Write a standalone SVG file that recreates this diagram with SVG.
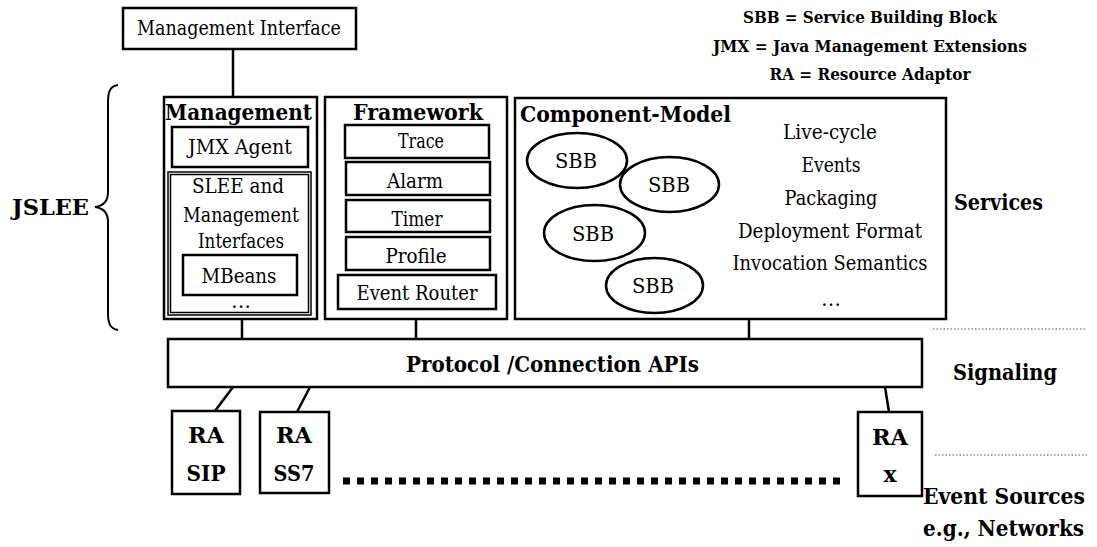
<svg xmlns="http://www.w3.org/2000/svg" width="1097" height="547" viewBox="0 0 1097 547" font-family="'DejaVu Serif', 'Liberation Serif', serif">
<style>
.box{fill:#fff;stroke:#000;stroke-width:2.5}
.thin{fill:none;stroke:#000;stroke-width:1.5}
.ell{fill:#fff;stroke:#000;stroke-width:2.5}
.t{font-size:20px;fill:#000;text-anchor:middle}
.b{font-weight:bold;font-size:22px;fill:#000}
.m{text-anchor:middle}
.lg{font-weight:bold;font-size:16px;fill:#000;text-anchor:middle}
.c{stroke:#000;stroke-width:2.5;fill:none}
.dot{stroke:#555;stroke-width:1.2;stroke-dasharray:1.5 2;fill:none}
</style>
<rect width="1097" height="547" fill="#fff"/>

<g id="connectors">
<line class="c" x1="233" y1="49" x2="233" y2="97"/>
<line class="c" x1="242" y1="319" x2="242" y2="339"/>
<line class="c" x1="416" y1="319" x2="416" y2="339"/>
<line class="c" x1="749" y1="319" x2="749" y2="339"/>
<line class="c" x1="233" y1="387" x2="215" y2="411"/>
<line class="c" x1="310" y1="387" x2="297" y2="412"/>
<line class="c" x1="885" y1="387" x2="889" y2="412"/>
<line x1="343" y1="481" x2="845" y2="481" stroke="#000" stroke-width="7" stroke-dasharray="7 7"/>
</g>

<g id="legend">
<text class="lg" x="870" y="23" textLength="254" lengthAdjust="spacingAndGlyphs">SBB = Service  Building Block</text>
<text class="lg" x="870" y="52" textLength="314" lengthAdjust="spacingAndGlyphs">JMX = Java Management Extensions</text>
<text class="lg" x="870" y="80" textLength="201" lengthAdjust="spacingAndGlyphs">RA = Resource Adaptor</text>
</g>

<g id="management-interface">
<rect class="box" x="123" y="8" width="233" height="41"/>
<text class="t" x="239" y="35" textLength="204" lengthAdjust="spacingAndGlyphs">Management  Interface</text>
</g>

<g id="jslee">
<text class="b" x="12" y="215" textLength="77" lengthAdjust="spacingAndGlyphs">JSLEE</text>
<path d="M118,85 C110,86 108,92 108,102 L108,192 C108,201 103,206 95,207 C103,208 108,213 108,222 L108,313 C108,323 110,329 118,330" fill="none" stroke="#000" stroke-width="2"/>
</g>

<g id="management">
<rect class="box" x="164" y="97" width="153" height="222"/>
<text class="b" x="165" y="120" textLength="147" lengthAdjust="spacingAndGlyphs">Management</text>
<rect class="box" x="172" y="127" width="136" height="40"/>
<text class="t" x="240" y="154" textLength="104" lengthAdjust="spacingAndGlyphs">JMX Agent</text>
<rect class="thin" x="168" y="172" width="143" height="143"/>
<rect class="thin" x="170.5" y="174.5" width="138" height="138"/>
<text class="t" x="238" y="193" textLength="92" lengthAdjust="spacingAndGlyphs">SLEE and</text>
<text class="t" x="241" y="222" textLength="116" lengthAdjust="spacingAndGlyphs">Management</text>
<text class="t" x="241" y="248" textLength="86" lengthAdjust="spacingAndGlyphs">Interfaces</text>
<rect class="box" x="183" y="255" width="114" height="40"/>
<text class="t" x="239" y="283" textLength="75" lengthAdjust="spacingAndGlyphs">MBeans</text>
<text class="t" x="241" y="308" font-size="14">…</text>
</g>

<g id="framework">
<rect class="box" x="325" y="97" width="182" height="222"/>
<text class="b" x="353" y="120" textLength="130" lengthAdjust="spacingAndGlyphs">Framework</text>
<rect class="box" x="345" y="125" width="144" height="33"/>
<text class="t" x="421" y="148" textLength="46" lengthAdjust="spacingAndGlyphs">Trace</text>
<rect class="box" x="346" y="162" width="144" height="33"/>
<text class="t" x="415" y="188" textLength="56" lengthAdjust="spacingAndGlyphs">Alarm</text>
<rect class="box" x="346" y="200" width="144" height="32"/>
<text class="t" x="417" y="226" textLength="51" lengthAdjust="spacingAndGlyphs">Timer</text>
<rect class="box" x="346" y="237" width="144" height="33"/>
<text class="t" x="416" y="263" textLength="61" lengthAdjust="spacingAndGlyphs">Profile</text>
<rect class="box" x="338" y="275" width="158" height="34"/>
<text class="t" x="417" y="300" textLength="121" lengthAdjust="spacingAndGlyphs">Event Router</text>
</g>

<g id="component-model">
<rect class="box" x="515" y="98" width="431" height="221"/>
<text class="b" x="520" y="122" textLength="211" lengthAdjust="spacingAndGlyphs">Component-Model</text>
<text class="t" x="830" y="139" textLength="94" lengthAdjust="spacingAndGlyphs">Live-cycle</text>
<text class="t" x="831" y="172" textLength="59" lengthAdjust="spacingAndGlyphs">Events</text>
<text class="t" x="831" y="205" textLength="93" lengthAdjust="spacingAndGlyphs">Packaging</text>
<text class="t" x="830" y="238" textLength="184" lengthAdjust="spacingAndGlyphs">Deployment  Format</text>
<text class="t" x="830" y="270" textLength="195" lengthAdjust="spacingAndGlyphs">Invocation  Semantics</text>
<text class="t" x="831" y="306" font-size="14">…</text>
</g>

<g id="sbb1"><ellipse class="ell" cx="577" cy="160.5" rx="50" ry="27.5"/><text class="t" x="576" y="168" textLength="42" lengthAdjust="spacingAndGlyphs">SBB</text></g>
<g id="sbb2"><ellipse class="ell" cx="669.5" cy="184.5" rx="49.5" ry="27.5"/><text class="t" x="669" y="192" textLength="42" lengthAdjust="spacingAndGlyphs">SBB</text></g>
<g id="sbb3"><ellipse class="ell" cx="594.5" cy="233" rx="50.5" ry="28"/><text class="t" x="593" y="241" textLength="42" lengthAdjust="spacingAndGlyphs">SBB</text></g>
<g id="sbb4"><ellipse class="ell" cx="654.5" cy="285.5" rx="48.5" ry="27.5"/><text class="t" x="653" y="293" textLength="42" lengthAdjust="spacingAndGlyphs">SBB</text></g>

<g id="services-label">
<text class="b" x="954" y="210" textLength="89" lengthAdjust="spacingAndGlyphs">Services</text>
</g>

<g id="protocol">
<rect class="box" x="168" y="339" width="754" height="48"/>
<text class="b" x="406" y="372" textLength="293" lengthAdjust="spacingAndGlyphs">Protocol /Connection APIs</text>
</g>

<g id="signaling-label">
<line class="dot" x1="933" y1="329" x2="1087" y2="329"/>
<text class="b" x="953" y="380" textLength="104" lengthAdjust="spacingAndGlyphs">Signaling</text>
</g>

<g id="ra-sip">
<rect class="box" x="172" y="411" width="68" height="83"/>
<text class="b m" x="206" y="443" textLength="36" lengthAdjust="spacingAndGlyphs">RA</text>
<text class="b m" x="206" y="481" textLength="39" lengthAdjust="spacingAndGlyphs">SIP</text>
</g>

<g id="ra-ss7">
<rect class="box" x="260" y="412" width="69" height="81"/>
<text class="b m" x="294" y="443" textLength="36" lengthAdjust="spacingAndGlyphs">RA</text>
<text class="b m" x="294" y="481" textLength="41" lengthAdjust="spacingAndGlyphs">SS7</text>
</g>

<g id="ra-x">
<rect class="box" x="858" y="412" width="64" height="84"/>
<text class="b m" x="890" y="445" textLength="36" lengthAdjust="spacingAndGlyphs">RA</text>
<text class="b m" x="890" y="482">x</text>
</g>

<g id="event-sources-label">
<line class="dot" x1="935" y1="455" x2="1087" y2="455"/>
<text class="b" x="923" y="504" font-size="19" textLength="162" lengthAdjust="spacingAndGlyphs">Event Sources</text>
<text class="b" x="923" y="536" font-size="18" textLength="161" lengthAdjust="spacingAndGlyphs">e.g., Networks</text>
</g>
</svg>
